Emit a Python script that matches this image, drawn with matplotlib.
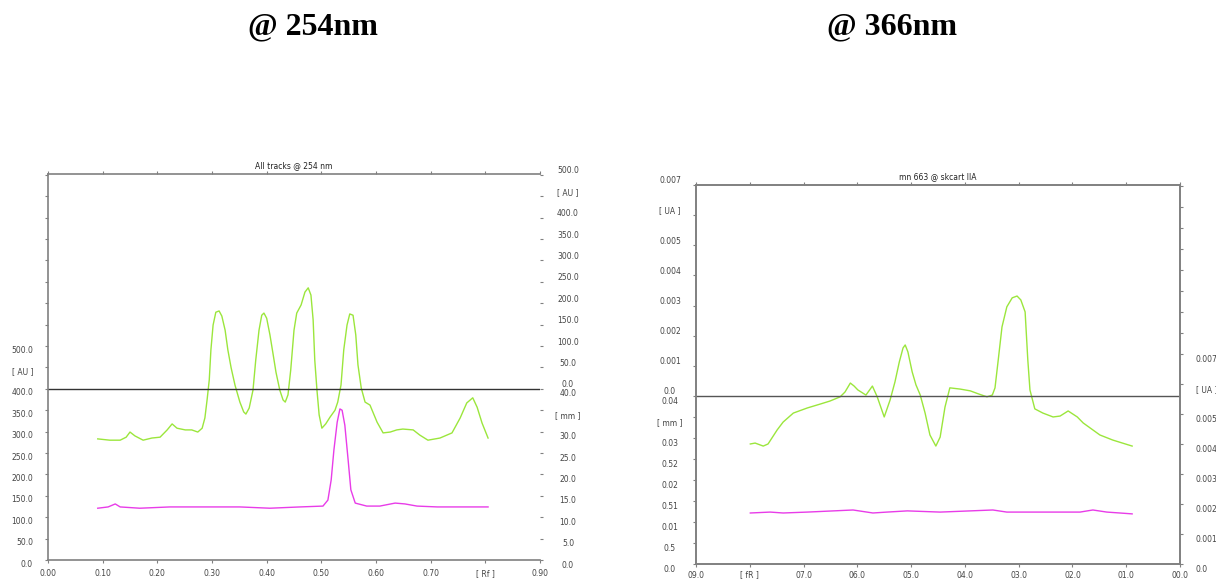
import numpy as np
import matplotlib
matplotlib.use("Agg")
import matplotlib.pyplot as plt

# ---- densitogram @ 254 nm (Rf, AU on the lower left scale) ----
rf_green_254 = [0.091, 0.113, 0.132, 0.143, 0.150, 0.159, 0.174, 0.190, 0.205, 0.218,
                0.227, 0.236, 0.251, 0.263, 0.274, 0.282, 0.287, 0.291, 0.295, 0.298,
                0.302, 0.307, 0.313, 0.318, 0.324, 0.329, 0.335, 0.342, 0.351, 0.358,
                0.362, 0.368, 0.375, 0.380, 0.386, 0.391, 0.395, 0.400, 0.406, 0.412,
                0.417, 0.424, 0.430, 0.434, 0.439, 0.444, 0.450, 0.455, 0.463, 0.470,
                0.476, 0.481, 0.485, 0.488, 0.492, 0.496, 0.501, 0.508, 0.516, 0.525,
                0.530, 0.536, 0.541, 0.547, 0.552, 0.558, 0.563, 0.567, 0.573, 0.580,
                0.589, 0.602, 0.613, 0.626, 0.638, 0.649, 0.668, 0.680, 0.695, 0.717,
                0.739, 0.754, 0.766, 0.777, 0.785, 0.794, 0.805]
au_green_254 = [283, 280, 280, 287, 299, 290, 280, 285, 287, 304,
                318, 308, 304, 304, 299, 308, 332, 374, 421, 491,
                549, 579, 582, 570, 537, 491, 449, 409, 369, 346,
                341, 355, 397, 467, 537, 572, 577, 565, 526, 479,
                439, 397, 374, 369, 386, 444, 537, 577, 596, 626,
                636, 619, 561, 467, 397, 339, 308, 318, 334, 350,
                369, 409, 491, 549, 575, 572, 526, 456, 402, 369,
                362, 322, 297, 299, 304, 306, 304, 292, 280, 285,
                297, 332, 367, 379, 357, 320, 285]

rf_mag_254 = [0.091, 0.110, 0.123, 0.132, 0.168, 0.223, 0.278, 0.351, 0.406, 0.461,
              0.503, 0.512, 0.518, 0.523, 0.529, 0.534, 0.538, 0.543, 0.549, 0.554,
              0.562, 0.583, 0.607, 0.635, 0.653, 0.675, 0.712, 0.759, 0.805]
au_mag_254 = [121, 124, 131, 124, 121, 124, 124, 124, 121, 124,
              126, 140, 187, 257, 322, 353, 350, 315, 234, 164,
              133, 126, 126, 133, 131, 126, 124, 124, 124]

# ---- densitogram @ 366 nm (shown mirrored, lower right scale) ----
rf_green_366 = [0.799, 0.790, 0.775, 0.766, 0.749, 0.738, 0.719, 0.693, 0.669, 0.651,
                0.632, 0.623, 0.613, 0.606, 0.599, 0.584, 0.572, 0.563, 0.550, 0.539,
                0.530, 0.522, 0.515, 0.511, 0.506, 0.498, 0.491, 0.483, 0.474, 0.465,
                0.454, 0.446, 0.437, 0.428, 0.409, 0.390, 0.375, 0.359, 0.349, 0.344,
                0.338, 0.331, 0.322, 0.312, 0.303, 0.296, 0.288, 0.283, 0.279, 0.270,
                0.255, 0.236, 0.223, 0.208, 0.191, 0.180, 0.149, 0.125, 0.089]
au_green_366 = [400, 403, 393, 400, 447, 473, 503, 520, 533, 543,
                557, 573, 603, 593, 580, 563, 593, 557, 490, 547,
                607, 673, 720, 730, 707, 640, 597, 563, 503, 430,
                393, 423, 523, 587, 583, 577, 567, 557, 563, 587,
                680, 790, 857, 887, 893, 880, 840, 680, 580, 517,
                503, 490, 493, 510, 490, 470, 430, 413, 393]

rf_mag_366 = [0.799, 0.762, 0.738, 0.693, 0.608, 0.571, 0.545, 0.507, 0.446, 0.348,
              0.322, 0.266, 0.186, 0.162, 0.136, 0.112, 0.089]
au_mag_366 = [170, 173, 170, 173, 180, 170, 173, 177, 173, 180,
              173, 173, 173, 180, 173, 170, 167]

# ---- axis texts ----
rf_ticks = np.round(np.arange(0, 0.91, 0.1), 2)
rf_labels_254 = ["0.00", "0.10", "0.20", "0.30", "0.40", "0.50", "0.60", "0.70", "[ Rf ]", "0.90"]
rf_labels_366 = ["00.0", "01.0", "02.0", "03.0", "04.0", "05.0", "06.0", "07.0", "[ fR ]", "09.0"]

left_labels_254 = ["0.0", "50.0", "100.0", "150.0", "200.0", "250.0", "300.0", "350.0",
                   "400.0", "[ AU ]", "500.0"]
right_low_labels_254 = ["0.0", "5.0", "10.0", "15.0", "20.0", "25.0", "30.0", "[ mm ]", "40.0"]
right_up_labels_254 = ["0.0", "50.0", "100.0", "150.0", "200.0", "250.0", "300.0", "350.0",
                       "400.0", "[ AU ]", "500.0"]

left_low_labels_366 = ["0.0", "0.5", "0.01", "0.51", "0.02", "0.52", "0.03", "[ mm ]", "0.04"]
left_up_labels_366 = ["0.0", "0.001", "0.002", "0.003", "0.004", "0.005", "[ UA ]", "0.007"]
right_labels_366 = ["0.0", "0.001", "0.002", "0.003", "0.004", "0.005", "[ UA ]", "0.007"]

green = "#9be63c"
magenta = "#e83ce8"
spine_col = "#808080"
txt_col = "#444444"
fs = 5.5

fig = plt.figure(figsize=(12.16, 5.8), dpi=100)


def style(ax):
    for s in ax.spines.values():
        s.set_color(spine_col)
        s.set_linewidth(1.2)
    ax.tick_params(which="both", direction="out", length=2.5, width=0.8, color=spine_col,
                   top=True, labelleft=False, labelbottom=False, labelright=False)


def ylabels(ax, ticks, labels, side, dx, dy, ha):
    x = 0 if side == "left" else 1
    for t, lab in zip(ticks, labels):
        ax.annotate(lab, xy=(x, t), xycoords=ax.get_yaxis_transform(), xytext=(dx, dy),
                    textcoords="offset points", ha=ha, va="center", fontsize=fs, color=txt_col)


def xlabels(ax, ticks, labels, dy):
    for t, lab in zip(ticks, labels):
        ax.annotate(lab, xy=(t, 0), xycoords=ax.get_xaxis_transform(), xytext=(0, dy),
                    textcoords="offset points", ha="center", va="center", fontsize=fs, color=txt_col)


# ================= left panel: 254 nm =================
ax1 = fig.add_axes([48 / 1216, 20 / 580, 492 / 1216, 386 / 580])
ax1.plot(rf_green_254, au_green_254, color=green, lw=1.0)
ax1.plot(rf_mag_254, au_mag_254, color=magenta, lw=1.0)
ax1.axhline(400, color="#333333", lw=1.0)
ax1.set_xlim(0, 0.9)
ax1.set_ylim(0, 902)
style(ax1)
ax1.spines["right"].set_visible(False)
ax1.set_xticks(rf_ticks)
yt1 = np.arange(0, 901, 50)
ax1.set_yticks(yt1)
ax1.tick_params(right=True)
ylabels(ax1, yt1[:11], left_labels_254, "left", -10.8, -2.9, "right")
ylabels(ax1, yt1[:9], right_low_labels_254, "right", 20.2, -3.6, "center")
ylabels(ax1, yt1[8:], right_up_labels_254, "right", 20.2, 2.9, "center")
xlabels(ax1, rf_ticks, rf_labels_254, -10)
ax1.set_title("All tracks @ 254 nm", fontsize=fs, color="#222222", pad=4)

# ================= right panel: 366 nm (mirrored) =================
ax2 = fig.add_axes([696 / 1216, 16 / 580, 484 / 1216, 379 / 580])
ax2.plot(rf_green_366, au_green_366, color=green, lw=1.0)
ax2.plot(rf_mag_366, au_mag_366, color=magenta, lw=1.0)
ax2.axhline(560, color="#555555", lw=1.0)
ax2.set_xlim(0.9, 0.0)
ax2.set_ylim(0, 1263)
style(ax2)
ax2.set_xticks(rf_ticks)
left_low_ticks = np.linspace(0, 560, 9)
left_up_ticks = np.linspace(560, 1263, 8)
ax2.set_yticks(np.concatenate([left_low_ticks, left_up_ticks[1:]]))
ax2.tick_params(right=False)
right_ticks = np.concatenate([np.arange(0, 701, 100), np.arange(770, 1263, 70)])
ax2r = ax2.twinx()
ax2r.set_ylim(0, 1263)
ax2r.set_yticks(right_ticks)
style(ax2r)
ax2r.tick_params(top=False, bottom=False, left=False, right=True)
ylabels(ax2, left_low_ticks, left_low_labels_366, "left", -18.7, -4.3, "center")
ylabels(ax2, left_up_ticks, left_up_labels_366, "left", -18.7, 2.9, "center")
ylabels(ax2, right_ticks[:8], right_labels_366, "right", 11.5, -4.3, "left")
xlabels(ax2, rf_ticks, rf_labels_366, -8)
ax2.set_title("mn 663 @ skcart llA", fontsize=fs, color="#222222", pad=4)

# ---- big headings ----
fig.text(313 / 1216, 553 / 580, "@ 254nm", ha="center", va="center",
         family="Liberation Serif", weight="bold", fontsize=23)
fig.text(892 / 1216, 553 / 580, "@ 366nm", ha="center", va="center",
         family="Liberation Serif", weight="bold", fontsize=23)

fig.savefig("out.png", dpi=100)
